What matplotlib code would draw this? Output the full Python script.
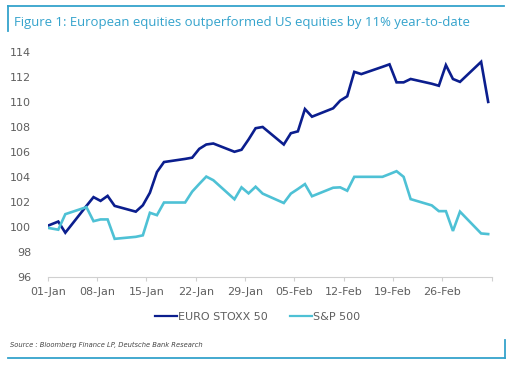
import matplotlib
matplotlib.use("Agg")
import matplotlib.pyplot as plt
from matplotlib.lines import Line2D
import pandas as pd

# ---------------- data ----------------
dates = ["2024-12-31", "2025-01-02", "2025-01-03", "2025-01-06", "2025-01-07", "2025-01-08",
         "2025-01-09", "2025-01-10", "2025-01-13", "2025-01-14", "2025-01-15", "2025-01-16",
         "2025-01-17", "2025-01-20", "2025-01-21", "2025-01-22", "2025-01-23", "2025-01-24",
         "2025-01-27", "2025-01-28", "2025-01-29", "2025-01-30", "2025-01-31", "2025-02-03",
         "2025-02-04", "2025-02-05", "2025-02-06", "2025-02-07", "2025-02-10", "2025-02-11",
         "2025-02-12", "2025-02-13", "2025-02-14", "2025-02-17", "2025-02-18", "2025-02-19",
         "2025-02-20", "2025-02-21", "2025-02-24", "2025-02-25", "2025-02-26", "2025-02-27",
         "2025-02-28", "2025-03-03", "2025-03-04"]

euro_stoxx = [100.0, 100.45, 99.56, 101.7, 102.4, 102.1,
              102.5, 101.7, 101.24, 101.75, 102.75, 104.4,
              105.2, 105.45, 105.55, 106.25, 106.6, 106.68,
              106.02, 106.18, 107.0, 107.9, 108.0, 106.6,
              107.5, 107.65, 109.43, 108.82, 109.49, 110.1,
              110.45, 112.4, 112.22, 112.8, 113.0, 111.56,
              111.56, 111.83, 111.45, 111.29, 112.94, 111.83,
              111.6, 113.2, 110.0]

sp500 = [100.0, 99.8, 101.04, 101.6, 100.48, 100.62,
         100.62, 99.07, 99.23, 99.35, 101.15, 100.96,
         101.97, 101.97, 102.84, 103.45, 104.04, 103.75,
         102.23, 103.18, 102.7, 103.23, 102.68, 101.93,
         102.68, 103.05, 103.44, 102.47, 103.15, 103.18,
         102.91, 104.02, 104.02, 104.02, 104.24, 104.47,
         104.02, 102.24, 101.74, 101.28, 101.28, 99.7,
         101.24, 99.5, 99.45]

series_names = ["EURO STOXX 50", "S&P 500"]
y_ticks = [96, 98, 100, 102, 104, 106, 108, 110, 112, 114]
x_start, x_end = "2025-01-01", "2025-03-05"
tick_dates = pd.date_range(x_start, x_end, freq="7D")
title = "Figure 1: European equities outperformed US equities by 11% year-to-date"
source = "Source : Bloomberg Finance LP, Deutsche Bank Research"

# ---------------- style ----------------
W, H = 517, 371
DARK = "#0B1E8E"
CYAN = "#4EC1D5"
TEAL = "#34A3CC"
GREY = "#5F5F5F"

fig = plt.figure(figsize=(W / 100, H / 100), dpi=100)
fig.patch.set_facecolor("white")

def fx(px):
    return px / W

def fy(py):
    return 1 - py / H

ax = fig.add_axes([fx(47.7), fy(277.3), fx(491.7) - fx(47.7), fy(51.8) - fy(277.3)])

# day values centred in their day slot (date axis, between tick marks)
x = pd.to_datetime(dates) + pd.Timedelta(hours=12)
ax.plot(x, euro_stoxx, color=DARK, lw=1.9, solid_joinstyle="miter", label=series_names[0])
ax.plot(x, sp500, color=CYAN, lw=1.9, solid_joinstyle="miter", label=series_names[1])

ax.set_xlim(pd.Timestamp(x_start), pd.Timestamp(x_end))
ax.set_ylim(96, 114)
ax.set_yticks(y_ticks)
ax.set_xticks(tick_dates)
labels = [d.strftime("%d-%b") for d in tick_dates]
labels[-1] = ""
ax.set_xticklabels(labels)

for s in ["top", "right", "left"]:
    ax.spines[s].set_visible(False)
ax.spines["bottom"].set_color("#D0D0D0")
ax.spines["bottom"].set_linewidth(0.8)
ax.tick_params(axis="x", colors="#D0D0D0", length=3, width=0.8, labelcolor=GREY,
               labelsize=8, pad=4)
ax.tick_params(axis="y", length=0, labelcolor=GREY, labelsize=8, pad=12)
ax.patch.set_alpha(0)

# title
fig.text(fx(14), fy(26), title, color=TEAL, fontsize=9.45, family="Open Sans",
         ha="left", va="baseline")

# frame lines
fig.add_artist(Line2D([fx(8), fx(504)], [fy(6), fy(6)], color=TEAL, lw=1.3))
fig.add_artist(Line2D([fx(8), fx(8)], [fy(6), fy(31)], color=TEAL, lw=1.3))
fig.add_artist(Line2D([fx(8), fx(505)], [fy(357.5), fy(357.5)], color=TEAL, lw=1.3))
fig.add_artist(Line2D([fx(505), fx(505)], [fy(340), fy(357.5)], color=TEAL, lw=1.3))

# legend
leg = fig.legend(loc="center", bbox_to_anchor=(fx(257.5), fy(316.5)), ncol=2, frameon=False,
                 fontsize=8, handlelength=2.0, handletextpad=0.1, columnspacing=2.0,
                 borderpad=0, borderaxespad=0)
for t in leg.get_texts():
    t.set_color(GREY)
for h in leg.get_lines():
    h.set_linewidth(1.6)

# source
fig.text(fx(10), fy(347.5), source, color="#444444", fontsize=4.9, style="italic",
         ha="left", va="baseline")

fig.savefig("out.png", dpi=100, facecolor="white")
